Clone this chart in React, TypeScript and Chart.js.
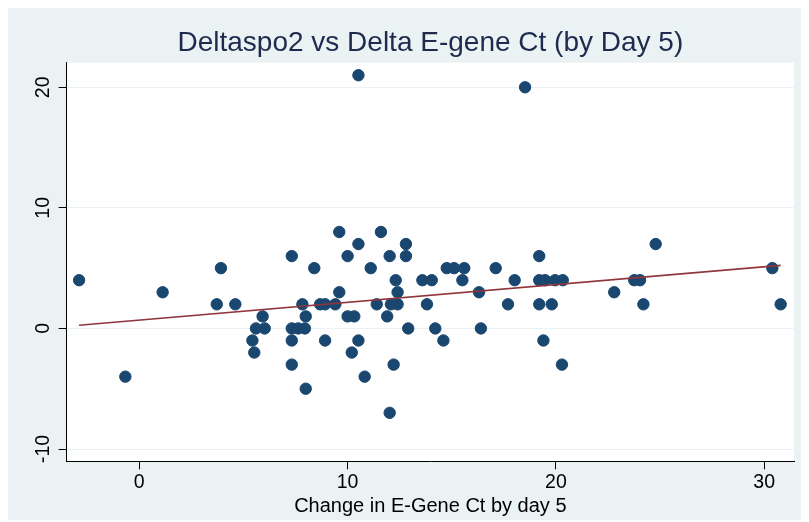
import React, { useEffect, useRef } from "react";
import { Chart, registerables } from "chart.js";

Chart.register(...registerables);

const TITLE = "Deltaspo2 vs Delta E-gene Ct (by Day 5)";
const X_TITLE = "Change in E-Gene Ct by day 5";
const X_TICKS = [0, 10, 20, 30];
const Y_TICKS = [-10, 0, 10, 20];
const X_MIN = -3.485;
const X_MAX = 31.43;
const Y_MIN = -11.02;
const Y_MAX = 22.04;

// Change in E-Gene Ct by day 5
const E_GENE_CT = [
  -2.89, -0.67, 1.12, 3.92, 3.72, 4.61, 5.92, 5.6, 6.02, 5.43,
  5.52, 7.32, 7.83, 7.32, 7.63, 7.95, 7.32, 7.32, 7.99, 7.99,
  8.4, 8.68, 8.92, 8.92, 9.41, 9.6, 9.6, 10.0, 10.52, 10.0,
  10.32, 10.2, 10.52, 10.82, 11.11, 11.4, 11.6, 11.9, 12.02, 12.02,
  12.08, 12.4, 12.31, 12.4, 12.21, 12.8, 12.8, 12.91, 13.59, 14.04,
  13.81, 14.21, 14.6, 14.76, 15.11, 15.6, 15.51, 16.31, 16.4, 17.11,
  17.7, 18.02, 19.2, 19.2, 19.48, 19.2, 19.8, 19.4, 19.96, 20.33,
  20.29, 22.8, 23.76, 24.04, 24.2, 24.79, 30.39, 30.79, 10.52, 18.52,
];

// Deltaspo2
const DELTA_SPO2 = [
  4, -4, 3, 5, 2, 2, 1, 0, 0, -1,
  -2, 6, 2, 0, 0, 0, -1, -3, 1, -5,
  5, 2, 2, -1, 2, 8, 3, 6, 7, 1,
  1, -2, -1, -4, 5, 2, 8, 1, 6, -7,
  2, 2, 4, 3, -3, 7, 6, 0, 4, 4,
  2, 0, -1, 5, 5, 5, 4, 3, 0, 5,
  2, 4, 6, 4, 4, 2, 2, -1, 4, 4,
  -3, 3, 4, 4, 2, 7, 5, 2, 21, 20,
];

// Linear fit line endpoints
const FIT_X = [-2.89, 30.79];
const FIT_Y = [0.27, 5.23];

const FONT = "'Liberation Sans', Arial, Helvetica, sans-serif";

const decorPlugin = {
  id: "decor",
  beforeDraw(chart: any) {
    const { ctx, width, height, chartArea: a } = chart;
    ctx.save();
    ctx.fillStyle = "#eaf2f3";
    ctx.fillRect(0, 0, width, height);
    ctx.fillStyle = "#ffffff";
    ctx.fillRect(a.left, a.top, a.right - a.left, a.bottom - a.top);
    ctx.restore();
  },
  afterDraw(chart: any) {
    const { ctx, chartArea: a, scales } = chart;
    ctx.save();
    ctx.fillStyle = "#1e2b4f";
    ctx.font = `28px ${FONT}`;
    ctx.textAlign = "center";
    ctx.textBaseline = "alphabetic";
    ctx.fillText(TITLE, (a.left + a.right) / 2, 43);

    const ys = scales.y;
    ctx.fillStyle = "#000000";
    ctx.font = `19.5px ${FONT}`;
    for (const t of ys.ticks) {
      const py = ys.getPixelForValue(t.value);
      ctx.save();
      ctx.translate(35.5, py);
      ctx.rotate(-Math.PI / 2);
      ctx.textAlign = "center";
      ctx.textBaseline = "middle";
      ctx.fillText(String(t.value), 0, 0);
      ctx.restore();
    }
    ctx.restore();
  },
};

export default function App() {
  const ref = useRef<HTMLCanvasElement | null>(null);

  useEffect(() => {
    if (!ref.current) return;
    const chart = new Chart(ref.current, {
      type: "scatter",
      data: {
        datasets: [
          {
            type: "line",
            data: FIT_X.map((x, i) => ({ x, y: FIT_Y[i] })),
            borderColor: "#90353b",
            borderWidth: 1.6,
            pointRadius: 0,
            fill: false,
            tension: 0,
            order: 0,
          } as any,
          {
            type: "scatter",
            data: E_GENE_CT.map((x, i) => ({ x, y: DELTA_SPO2[i] })),
            backgroundColor: "#1a476f",
            borderColor: "#1a476f",
            borderWidth: 1,
            pointRadius: 5.7,
            order: 1,
          },
        ],
      },
      options: {
        animation: false,
        responsive: false,
        devicePixelRatio: 1,
        layout: { padding: { top: 54.7, right: 15, left: 0, bottom: 0 } },
        plugins: {
          legend: { display: false },
          tooltip: { enabled: false },
          title: { display: false },
        },
        scales: {
          x: {
            type: "linear",
            min: X_MIN,
            max: X_MAX,
            afterBuildTicks: (s: any) => {
              s.ticks = X_TICKS.map((v) => ({ value: v }));
            },
            afterFit: (s: any) => {
              s.height = 58.7;
            },
            grid: {
              drawOnChartArea: false,
              drawTicks: true,
              tickLength: 8,
              tickColor: "#000000",
              tickWidth: 1,
            },
            border: { display: true, color: "#000000", width: 1 },
            ticks: {
              color: "#000000",
              font: { family: FONT, size: 19.5 },
              padding: 2,
              maxRotation: 0,
              autoSkip: false,
            },
            title: {
              display: true,
              text: X_TITLE,
              color: "#000000",
              font: { family: FONT, size: 20 },
              padding: { top: 0, bottom: 2 },
            },
          },
          y: {
            type: "linear",
            min: Y_MIN,
            max: Y_MAX,
            afterBuildTicks: (s: any) => {
              s.ticks = Y_TICKS.map((v) => ({ value: v }));
            },
            afterFit: (s: any) => {
              s.width = 58.7;
            },
            grid: {
              color: "#eaf2f3",
              lineWidth: 1,
              drawTicks: true,
              tickLength: 8,
              tickColor: "#000000",
              tickWidth: 1,
            },
            border: { display: true, color: "#000000", width: 1 },
            ticks: { display: false },
          },
        },
      },
      plugins: [decorPlugin],
    });
    return () => chart.destroy();
  }, []);

  return (
    <div style={{ width: 801, height: 512 }}>
      <canvas ref={ref} width={801} height={512} style={{ display: "block" }} />
    </div>
  );
}
